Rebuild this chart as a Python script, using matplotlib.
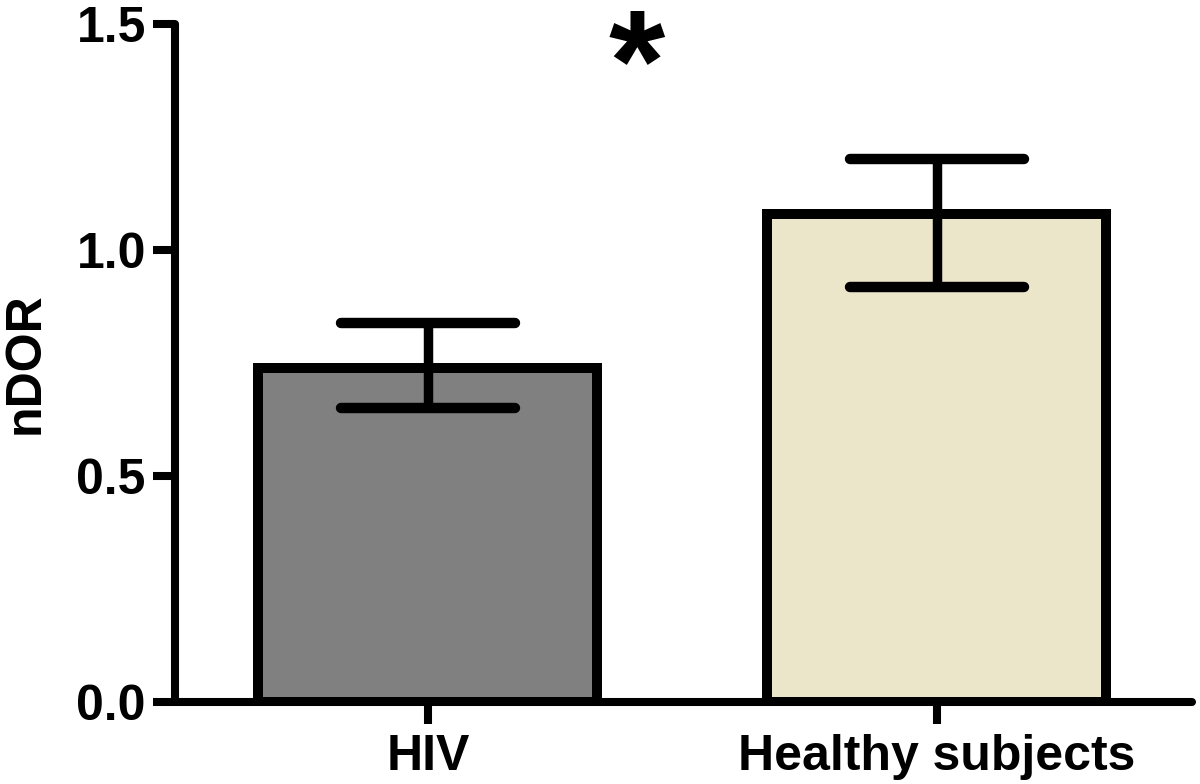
import matplotlib
matplotlib.use("Agg")
import matplotlib.pyplot as plt
import numpy as np

categories = ["HIV", "Healthy subjects"]
means = [0.739, 1.080]
err_upper = [0.838, 1.201]
err_lower = [0.650, 0.918]
colors = ["#808080", "#EBE5CA"]
yticks = [0.0, 0.5, 1.0, 1.5]
ytick_labels = ["0.0", "0.5", "1.0", "1.5"]
star_label = "*"

plt.rcParams['font.family'] = ['Liberation Sans', 'DejaVu Sans']

fig = plt.figure(figsize=(12, 7.84), dpi=100)
ax = fig.add_axes([175/1200, 1-702/784, (1192-175)/1200, (702-24)/784])

x = np.arange(len(categories))
ax.bar(x, means, width=0.666, color=colors, edgecolor="black",
       linewidth=7.2, zorder=2, joinstyle="miter")

vl = ax.vlines(x, err_lower, err_upper, colors="black", linewidth=6.8, zorder=3)
cw = 0.17
for lvl in (err_lower, err_upper):
    hl = ax.hlines(lvl, x - cw, x + cw, colors="black", linewidth=7.5, zorder=3)
    hl.set_capstyle("round")

ax.set_xlim(-0.497, 1.501)
ax.set_ylim(0, 1.5)
ax.set_xticks(x)
ax.set_xticklabels(categories, fontsize=36, fontweight="bold")
ax.set_yticks(yticks)
ax.set_yticklabels(ytick_labels, fontsize=36, fontweight="bold")
ax.set_ylabel("nDOR", fontsize=36, fontweight="bold", labelpad=20)

for s in ("top", "right"):
    ax.spines[s].set_visible(False)
for s in ("left", "bottom"):
    ax.spines[s].set_linewidth(5.8)
    ax.spines[s].set_capstyle("round")
ax.tick_params(axis="both", width=5.8, length=16, direction="out")
ax.tick_params(axis="y", pad=5)
ax.tick_params(axis="x", pad=7)

ax.text(0.41, 1.31, star_label, fontsize=104, fontweight="bold",
        ha="center", va="baseline", clip_on=False)

fig.savefig("out.png", dpi=100)
